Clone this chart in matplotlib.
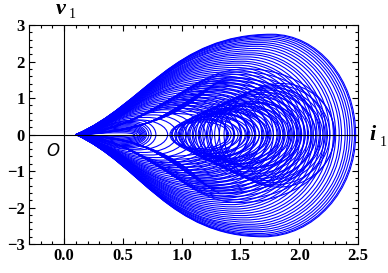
import matplotlib
matplotlib.use('Agg')
import matplotlib.pyplot as plt
from matplotlib.path import Path
from matplotlib.patches import PathPatch
from matplotlib.ticker import MultipleLocator

# big teardrop loops leaving the cusp near i1 = 0.1
tear_xr = [2.48, 2.47, 2.45, 2.43, 2.41, 2.39, 2.36, 2.34, 2.31, 2.29, 2.26, 2.23,
           2.21, 2.18, 2.15, 2.12, 2.10, 2.07, 2.04, 2.01, 1.98, 1.95, 1.91, 1.87,
           1.83, 1.78, 1.73, 1.68, 1.62, 1.56, 1.50, 1.44, 1.38, 1.32, 1.26, 1.20,
           1.12, 1.04, 0.96, 0.88]
tear_top = [2.75, 2.73, 2.70, 2.66, 2.62, 2.57, 2.52, 2.47, 2.42, 2.36, 2.30, 2.24,
            2.19, 2.13, 2.07, 2.01, 1.96, 1.90, 1.84, 1.78, 1.72, 1.66, 1.60, 1.53,
            1.46, 1.40, 1.33, 1.26, 1.18, 1.10, 1.03, 0.96, 0.89, 0.82, 0.75, 0.68,
            0.61, 0.54, 0.47, 0.40]
tear_bot = [2.80, 2.78, 2.75, 2.71, 2.66, 2.61, 2.56, 2.51, 2.46, 2.40, 2.34, 2.28,
            2.22, 2.16, 2.10, 2.04, 1.98, 1.92, 1.86, 1.80, 1.74, 1.68, 1.62, 1.55,
            1.48, 1.42, 1.35, 1.28, 1.20, 1.12, 1.05, 0.98, 0.91, 0.84, 0.77, 0.70,
            0.63, 0.56, 0.49, 0.42]

# medium loops with a softer start, between the teardrops and the flat ones
mid_xr = [2.30, 2.24, 2.17, 2.11, 2.05, 1.99, 1.93, 1.87, 1.81, 1.75, 1.69, 1.63,
          1.57, 1.51, 1.45, 1.39]
mid_top = [1.80, 1.72, 1.65, 1.57, 1.50, 1.43, 1.36, 1.29, 1.22, 1.15, 1.08, 1.01,
           0.94, 0.87, 0.80, 0.73]
mid_bot = [1.86, 1.78, 1.70, 1.62, 1.55, 1.48, 1.40, 1.33, 1.26, 1.19, 1.12, 1.05,
           0.98, 0.90, 0.83, 0.76]

# tiny loops that fill the tip and close it just left of the hole
tip_xr = [0.60, 0.62, 0.64, 0.65, 0.66, 0.67, 0.68, 0.69, 0.70, 0.72, 0.74, 0.78]
tip_top = [0.05, 0.09, 0.12, 0.15, 0.18, 0.21, 0.24, 0.27, 0.30, 0.33, 0.36, 0.40]

# flat loops that hug i1 past the hole before opening out
flat_xr = [2.20, 2.14, 2.08, 2.02, 1.96, 1.90, 1.84, 1.78, 1.72, 1.66, 1.60, 1.54,
           1.48, 1.42]
flat_top = [1.55, 1.48, 1.40, 1.33, 1.25, 1.18, 1.10, 1.02, 0.95, 0.88, 0.80, 0.72,
            0.65, 0.58]
flat_bot = [1.60, 1.52, 1.45, 1.38, 1.30, 1.22, 1.14, 1.06, 0.98, 0.90, 0.82, 0.75,
            0.68, 0.60]

# ring loops round the middle, left edge between 0.9 and 1.35
ring_x0 = [0.90, 0.92, 0.95, 0.98, 1.00, 1.03, 1.06, 1.09, 1.12, 1.15, 1.18, 1.21,
           1.24, 1.28, 1.32, 1.36, 0.91, 0.94, 0.97, 1.01, 1.05, 1.10, 1.16, 1.24,
           0.99, 1.07, 1.14, 1.22]
ring_xr = [1.45, 1.55, 1.62, 1.70, 1.76, 1.82, 1.88, 1.94, 2.00, 2.05, 2.10, 2.14,
           2.18, 2.22, 2.26, 2.30, 1.40, 1.50, 1.58, 1.66, 1.74, 1.84, 1.92, 2.02,
           1.62, 1.72, 1.86, 1.98]
ring_top = [0.40, 0.50, 0.58, 0.66, 0.72, 0.80, 0.86, 0.92, 0.98, 1.04, 1.10, 1.16,
            1.22, 1.28, 1.34, 1.40, 0.35, 0.42, 0.50, 0.56, 0.62, 0.70, 0.78, 0.86,
            0.60, 0.68, 0.78, 0.90]
ring_bot = [0.42, 0.52, 0.60, 0.68, 0.75, 0.82, 0.88, 0.95, 1.02, 1.08, 1.14, 1.20,
            1.26, 1.32, 1.38, 1.44, 0.38, 0.45, 0.52, 0.58, 0.65, 0.72, 0.80, 0.90,
            0.62, 0.70, 0.80, 0.92]

cusp = 0.10
blue = '#0000ff'


def loop(x0, xr, top, bot, a, h, c, peak):
    # a, h: first control point (share of run, share of height)
    # c: how far back the second control point sits; peak: where the top sits
    xt = x0 + peak * (xr - x0)
    xb = x0 + (peak - 0.03) * (xr - x0)
    verts = [(x0, 0),
             (x0 + a * (xt - x0), h * top), (xt - c * (xt - x0), top), (xt, top),
             (xt + 0.55 * (xr - xt), top), (xr, 0.55 * top), (xr, 0),
             (xr, -0.55 * bot), (xb + 0.55 * (xr - xb), -bot), (xb, -bot),
             (xb - c * (xb - x0), -bot), (x0 + a * (xb - x0), -h * bot), (x0, 0)]
    codes = [Path.MOVETO] + [Path.CURVE4] * 12
    return Path(verts, codes)


fig = plt.figure(figsize=(3.88, 2.73), dpi=100)
ax = fig.add_axes([0.0747, 0.106, 0.848, 0.802])

for b, t, d in zip(tear_xr, tear_top, tear_bot):
    ax.add_patch(PathPatch(loop(cusp, b, t, d, 0.35, 0.3, 0.5, 0.70),
                           fill=False, ec=blue, lw=0.8))
for b, t, d in zip(mid_xr, mid_top, mid_bot):
    ax.add_patch(PathPatch(loop(cusp, b, t, d, 0.55, 0.18, 0.35, 0.66),
                           fill=False, ec=blue, lw=0.8))
for b, t in zip(tip_xr, tip_top):
    ax.add_patch(PathPatch(loop(cusp, b, t, t, 0.4, 0.3, 0.4, 0.75),
                           fill=False, ec=blue, lw=0.8))
for b, t, d in zip(flat_xr, flat_top, flat_bot):
    ax.add_patch(PathPatch(loop(cusp, b, t, d, 0.8, 0.12, 0.15, 0.62),
                           fill=False, ec=blue, lw=0.8))
for a, b, t, d in zip(ring_x0, ring_xr, ring_top, ring_bot):
    ax.add_patch(PathPatch(loop(a, b, t, d, 0.0, 0.55, 0.55, 0.52),
                           fill=False, ec=blue, lw=0.8))

ax.axhline(0, color='black', lw=0.8, zorder=3)
ax.axvline(0, color='black', lw=0.8, zorder=3)

ax.set_xlim(-0.3, 2.5)
ax.set_ylim(-3, 3)
ax.xaxis.set_minor_locator(MultipleLocator(0.1))
ax.yaxis.set_minor_locator(MultipleLocator(0.2))
ax.tick_params(which='both', direction='in', top=True, right=True, width=0.8)
ax.tick_params(which='major', length=4, pad=3)
ax.tick_params(which='minor', length=2)
ax.set_xticks([0, 0.5, 1.0, 1.5, 2.0, 2.5])
ax.set_xticklabels(['0.0', '0.5', '1.0', '1.5', '2.0', '2.5'])
ax.set_yticks([-3, -2, -1, 0, 1, 2, 3])
ax.set_yticklabels(['\u22123', '\u22122', '\u22121', '0', '1', '2', '3'])
for lab in ax.get_xticklabels() + ax.get_yticklabels():
    lab.set_fontfamily('Liberation Serif')
    lab.set_fontweight('bold')
    lab.set_fontsize(12)
for s in ax.spines.values():
    s.set_linewidth(0.8)

fig.text(61 / 388, 1 - 9 / 273, 'v', fontfamily='Liberation Serif', fontstyle='italic',
         fontweight='bold', fontsize=16, ha='center', va='center')
fig.text(72 / 388, 1 - 15 / 273, '1', fontfamily='Liberation Serif',
         fontsize=10, ha='center', va='center')
fig.text(373 / 388, 1 - 135 / 273, 'i', fontfamily='Liberation Serif', fontstyle='italic',
         fontweight='bold', fontsize=16, ha='center', va='center')
fig.text(383 / 388, 1 - 142 / 273, '1', fontfamily='Liberation Serif',
         fontsize=10, ha='center', va='center')
ax.text(-0.1, -0.45, 'O', fontfamily='DejaVu Sans', fontstyle='italic',
        fontsize=12, ha='center', va='center')

fig.savefig('out.png', dpi=100)
